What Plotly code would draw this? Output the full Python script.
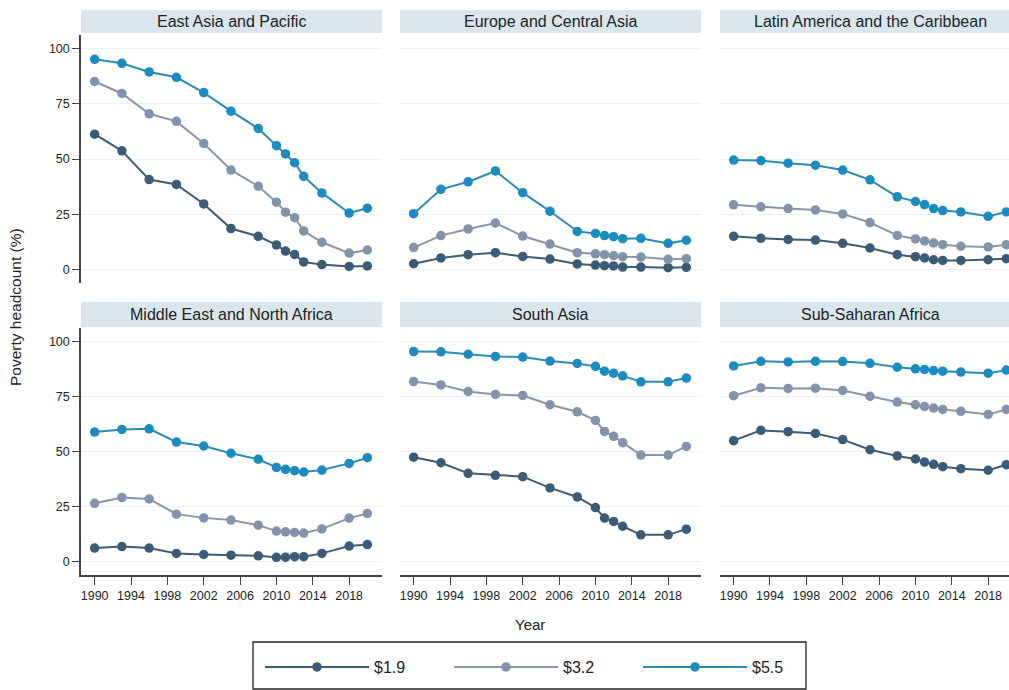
import plotly.graph_objects as go

years = [1990, 1993, 1996, 1999, 2002, 2005, 2008, 2010, 2011, 2012, 2013, 2015, 2018, 2020]
regions = ["East Asia and Pacific", "Europe and Central Asia", "Latin America and the Caribbean",
           "Middle East and North Africa", "South Asia", "Sub-Saharan Africa"]
series_names = ["$1.9", "$3.2", "$5.5"]

eap_19 = [61.2, 53.7, 40.7, 38.5, 29.7, 18.6, 15.1, 11.2, 8.4, 6.9, 3.5, 2.3, 1.5, 1.7]
eap_32 = [85.0, 79.6, 70.4, 67.0, 57.0, 45.0, 37.7, 30.5, 26.0, 23.5, 17.5, 12.4, 7.5, 8.9]
eap_55 = [95.0, 93.2, 89.3, 86.9, 80.0, 71.6, 63.8, 56.0, 52.3, 48.3, 42.2, 34.7, 25.6, 27.8]

eca_19 = [2.7, 5.3, 6.8, 7.7, 6.0, 4.8, 2.6, 2.1, 1.8, 1.7, 1.2, 1.2, 0.9, 1.1]
eca_32 = [10.0, 15.4, 18.4, 21.1, 15.2, 11.6, 7.7, 7.2, 6.8, 6.3, 5.9, 5.7, 4.7, 5.0]
eca_55 = [25.3, 36.3, 39.7, 44.6, 34.8, 26.4, 17.3, 16.4, 15.4, 14.9, 14.0, 14.2, 11.9, 13.3]

lac_19 = [15.1, 14.2, 13.7, 13.4, 11.9, 9.8, 6.8, 5.9, 5.3, 4.5, 4.2, 4.2, 4.5, 5.0]
lac_32 = [29.3, 28.4, 27.6, 27.0, 25.2, 21.3, 15.5, 13.9, 13.0, 12.1, 11.3, 10.6, 10.3, 11.3]
lac_55 = [49.5, 49.3, 48.1, 47.2, 45.0, 40.6, 32.9, 30.8, 29.4, 27.6, 26.7, 26.1, 24.1, 26.1]

mena_19 = [6.2, 6.9, 6.2, 3.8, 3.3, 3.0, 2.7, 2.0, 2.1, 2.3, 2.3, 3.8, 7.1, 7.8]
mena_32 = [26.5, 29.1, 28.5, 21.6, 19.9, 18.9, 16.6, 13.9, 13.6, 13.3, 13.0, 14.9, 19.8, 21.9]
mena_55 = [58.8, 60.0, 60.3, 54.3, 52.5, 49.2, 46.5, 42.8, 41.9, 41.3, 40.7, 41.6, 44.6, 47.2]

sa_19 = [47.4, 44.9, 40.1, 39.2, 38.6, 33.5, 29.4, 24.6, 19.8, 18.3, 16.1, 12.2, 12.2, 14.8]
sa_32 = [81.7, 80.2, 77.2, 75.9, 75.4, 71.2, 68.0, 64.1, 59.1, 56.9, 54.0, 48.4, 48.4, 52.3]
sa_55 = [95.3, 95.2, 94.1, 93.1, 92.8, 91.0, 89.9, 88.6, 86.4, 85.5, 84.3, 81.6, 81.6, 83.3]

ssa_19 = [54.9, 59.6, 59.0, 58.2, 55.4, 50.8, 48.0, 46.6, 45.2, 44.2, 43.1, 42.2, 41.5, 44.0]
ssa_32 = [75.3, 78.9, 78.6, 78.7, 77.7, 75.0, 72.4, 71.2, 70.4, 69.7, 69.1, 68.2, 66.8, 69.1]
ssa_55 = [88.8, 90.9, 90.6, 90.9, 90.8, 90.0, 88.2, 87.5, 87.2, 86.7, 86.4, 86.0, 85.5, 86.9]

data = [
    [eap_19, eap_32, eap_55],
    [eca_19, eca_32, eca_55],
    [lac_19, lac_32, lac_55],
    [mena_19, mena_32, mena_55],
    [sa_19, sa_32, sa_55],
    [ssa_19, ssa_32, ssa_55],
]

y_ticks = [0, 25, 50, 75, 100]
x_ticks = [1990, 1994, 1998, 2002, 2006, 2010, 2014, 2018]

marker_colors = ["#3b5b76", "#8393aa", "#1b8cbf"]
line_colors = ["#3f5b72", "#8896a8", "#2a8bb3"]

W, H = 1009, 690
FONT = "Liberation Sans"

# panel geometry in pixels
col_left = [81, 400, 720]
col_right = [382, 701, 1009]
row_top = [35, 328]
row_bottom = [283, 575]
strip_top = [10, 302]
strip_bot = [33, 327]

x0, pxyr = 1988.5, 9.09

fig = go.Figure()
layout = {}
shapes = []
annotations = []

for i in range(6):
    r, c = divmod(i, 3)
    n = i + 1
    xa = "x" if n == 1 else f"x{n}"
    ya = "y" if n == 1 else f"y{n}"
    for k in range(3):
        fig.add_trace(go.Scatter(
            x=years, y=data[i][k], mode="lines+markers", name=series_names[k],
            xaxis=xa, yaxis=ya, showlegend=(i == 0),
            legendgroup=series_names[k],
            line=dict(color=line_colors[k], width=2),
            marker=dict(color=marker_colors[k], size=9.5),
            cliponaxis=True,
        ))
    xd = [col_left[c] / W, col_right[c] / W]
    yd = [1 - row_bottom[r] / H, 1 - row_top[r] / H]
    xr = [x0, x0 + (col_right[c] - col_left[c]) / pxyr]
    xkey = "xaxis" if n == 1 else f"xaxis{n}"
    ykey = "yaxis" if n == 1 else f"yaxis{n}"
    layout[xkey] = dict(
        domain=xd, range=xr, anchor=ya, tickvals=x_ticks,
        showticklabels=(r == 1), ticks="outside" if r == 1 else "",
        ticklen=8, tickwidth=1.2, tickcolor="#444",
        showline=(r == 1), linecolor="#444", linewidth=1.5,
        showgrid=False, zeroline=False,
        tickfont=dict(family=FONT, size=12.5, color="#222"),
    )
    layout[ykey] = dict(
        domain=yd, range=[-6, 106], anchor=xa, tickvals=y_ticks,
        showticklabels=(c == 0), ticks="outside" if c == 0 else "",
        ticklen=7, tickwidth=1.2, tickcolor="#444",
        showline=(c == 0), linecolor="#444", linewidth=1.5,
        showgrid=True, gridcolor="#eef1f4", gridwidth=1, zeroline=False,
        tickfont=dict(family=FONT, size=12.5, color="#222"),
    )
    shapes.append(dict(
        type="rect", xref="paper", yref="paper",
        x0=col_left[c] / W, x1=col_right[c] / W if c < 2 else 1.0,
        y0=1 - strip_bot[r] / H, y1=1 - strip_top[r] / H,
        fillcolor="#d9e6ed", line=dict(width=0), layer="below",
    ))
    cx = (col_left[c] + (col_right[c] if c < 2 else 1021)) / 2 / W
    annotations.append(dict(
        text=regions[i], xref="paper", yref="paper",
        x=cx, y=1 - (strip_top[r] + strip_bot[r]) / 2 / H,
        xanchor="center", yanchor="middle", showarrow=False,
        font=dict(family=FONT, size=16, color="#222"),
    ))

# legend frame
shapes.append(dict(
    type="rect", xref="paper", yref="paper",
    x0=253 / W, x1=806 / W, y0=1 - 689 / H, y1=1 - 642 / H,
    fillcolor="rgba(0,0,0,0)", line=dict(color="#222", width=1.3),
))

annotations.append(dict(
    text="Poverty headcount (%)", xref="paper", yref="paper",
    x=15 / W, y=1 - 307 / H, textangle=-90, showarrow=False,
    xanchor="center", yanchor="middle",
    font=dict(family=FONT, size=15.5, color="#222"),
))
annotations.append(dict(
    text="Year", xref="paper", yref="paper",
    x=529.5 / W, y=1 - 624 / H, showarrow=False,
    xanchor="center", yanchor="middle",
    font=dict(family=FONT, size=15, color="#222"),
))

fig.update_layout(
    width=W, height=H,
    margin=dict(l=0, r=0, t=0, b=0),
    paper_bgcolor="white", plot_bgcolor="white",
    shapes=shapes, annotations=annotations,
    showlegend=True,
    legend=dict(
        orientation="h", x=260 / W, y=1 - 667 / H, xanchor="left", yanchor="middle",
        borderwidth=0, bgcolor="rgba(0,0,0,0)",
        font=dict(family=FONT, size=16, color="#222"),
        itemwidth=104, entrywidth=70, entrywidthmode="pixels",
    ),
    **layout,
)

fig.write_html(
    "out.html",
    config={"displayModeBar": False},
    post_script="document.body.style.margin='0px';document.body.style.overflow='hidden';",
)
